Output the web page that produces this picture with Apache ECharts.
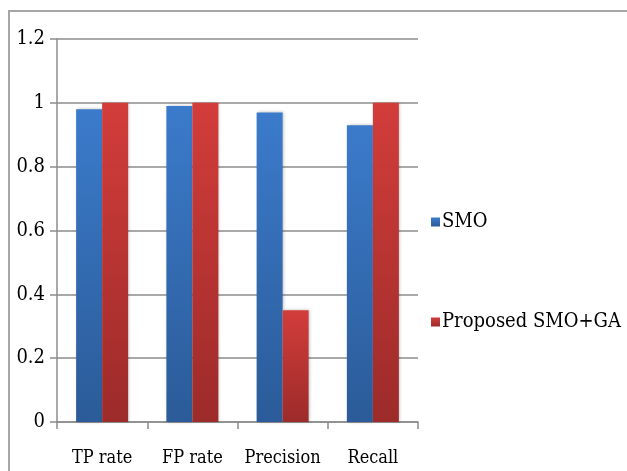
<!DOCTYPE html>
<html>
<head>
<meta charset="utf-8">
<script src="https://cdn.jsdelivr.net/npm/echarts@6/dist/echarts.min.js"></script>
<style>
  html, body { margin: 0; padding: 0; background: #fff; }
  #frame { position: absolute; left: 8px; top: 10px; width: 640px; height: 480px; border: 2px solid #a6a6a6; box-sizing: border-box; }
  #main { position: absolute; left: 0; top: 0; width: 627px; height: 471px; }
</style>
</head>
<body>
<div id="frame"></div>
<div id="main"></div>
<script>
var categories = ['TP rate', 'FP rate', 'Precision', 'Recall'];
var smoValues = [0.98, 0.99, 0.97, 0.93];
var proposedValues = [1, 1, 0.35, 1];
var seriesNames = ['SMO', 'Proposed SMO+GA'];

var chart = echarts.init(document.getElementById('main'), null, { renderer: 'canvas' });

function grad(top, bottom) {
    return new echarts.graphic.LinearGradient(0, 0, 0, 1, [
        { offset: 0, color: top },
        { offset: 1, color: bottom }
    ]);
}

var fontFam = 'DejaVu Serif Condensed, DejaVu Serif';

var option = {
    backgroundColor: 'transparent',
    animation: false,
    grid: {
        left: 57,
        right: 209,
        top: 39,
        bottom: 49
    },
    legend: {
        orient: 'vertical',
        left: 426,
        top: 207,
        itemWidth: 9,
        itemHeight: 9,
        itemGap: 80,
        icon: 'rect',
        data: seriesNames,
        textStyle: {
            fontFamily: fontFam,
            fontSize: 20,
            color: '#000',
            padding: [0, 0, 0, -3]
        }
    },
    xAxis: {
        type: 'category',
        data: categories,
        axisLine: { show: true, lineStyle: { color: '#8c8c8c', width: 1.5 } },
        axisTick: { show: true, length: 7, alignWithLabel: false, lineStyle: { color: '#8c8c8c', width: 1.5 } },
        axisLabel: {
            interval: 0,
            fontFamily: fontFam,
            fontSize: 18,
            color: '#000',
            margin: 27
        }
    },
    yAxis: {
        type: 'value',
        min: 0,
        max: 1.2,
        interval: 0.2,
        axisLine: { show: true, lineStyle: { color: '#8c8c8c', width: 1.5 } },
        axisTick: { show: true, length: 7, lineStyle: { color: '#8c8c8c', width: 1.5 } },
        splitLine: { show: true, lineStyle: { color: '#8c8c8c', width: 1.5 } },
        axisLabel: {
            fontFamily: fontFam,
            fontSize: 20,
            color: '#000',
            margin: 12
        }
    },
    series: [
        {
            name: seriesNames[0],
            type: 'bar',
            data: smoValues,
            barWidth: 26,
            barGap: '0%',
            itemStyle: {
                color: grad('#3b7bcb', '#2b5b98'),
                shadowColor: 'rgba(0,0,0,0.25)',
                shadowBlur: 3,
                shadowOffsetX: 1
            }
        },
        {
            name: seriesNames[1],
            type: 'bar',
            data: proposedValues,
            barWidth: 26,
            barGap: '0%',
            itemStyle: {
                color: grad('#d23d3a', '#9c2b2a'),
                shadowColor: 'rgba(0,0,0,0.25)',
                shadowBlur: 3,
                shadowOffsetX: 1
            }
        }
    ]
};

chart.setOption(option);
</script>
</body>
</html>
